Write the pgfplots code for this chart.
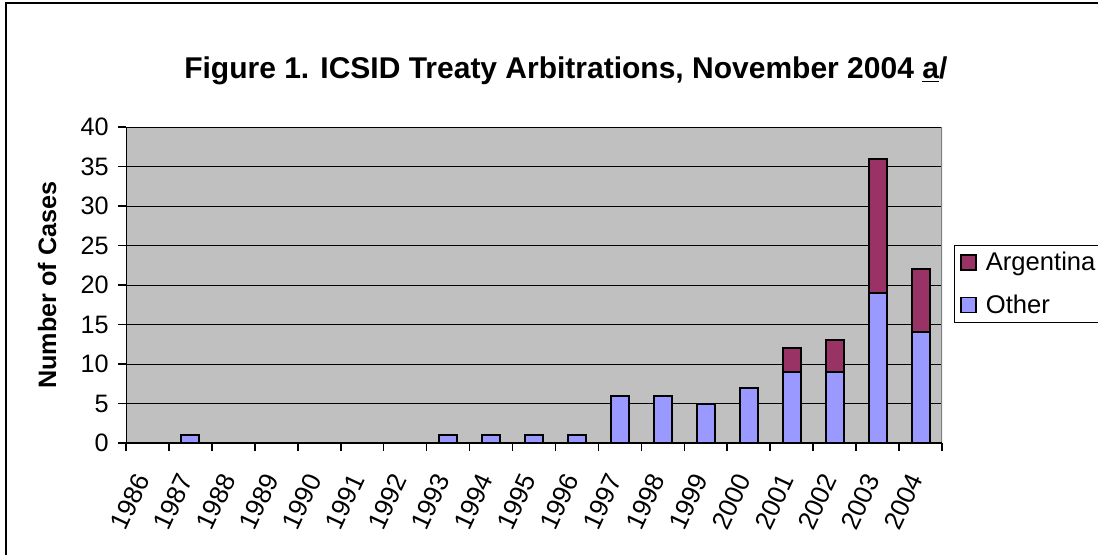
\documentclass[border=0pt]{standalone}
\usepackage{pgfplots}
\pgfplotsset{compat=1.18}
\usepackage{fontspec}
\setmainfont{Liberation Sans}
\definecolor{plotbg}{HTML}{C0C0C0}
\definecolor{other}{HTML}{9999FF}
\definecolor{argentina}{HTML}{993366}
\definecolor{rborder}{HTML}{808080}
\pgfplotstableread{
x other argentina
0 0 0
1 1 0
2 0 0
3 0 0
4 0 0
5 0 0
6 0 0
7 1 0
8 1 0
9 1 0
10 1 0
11 6 0
12 6 0
13 5 0
14 7 0
15 9 3
16 9 4
17 19 17
18 14 8
}\datatable
\begin{document}
\begin{tikzpicture}
\useasboundingbox (0,0) rectangle (549pt,277pt);
\draw[black, line width=1pt] (2.75pt,-10pt) rectangle (600pt,275.5pt);
\begin{axis}[
  at={(63pt,55.5pt)}, anchor=south west,
  scale only axis, width=408pt, height=158pt,
  xmin=-0.5, xmax=18.5, ymin=0, ymax=40,
  ybar stacked, bar width=0.42,
  axis background/.style={fill=plotbg},
  axis line style={draw=none},
  xtick={0,...,18},
  xticklabels={1986,1987,1988,1989,1990,1991,1992,1993,1994,1995,1996,1997,1998,1999,2000,2001,2002,2003,2004},
  minor xtick={-0.5,0.5,...,18.5},
  xtick pos=bottom, ytick pos=left,
  tick align=outside,
  major tick length=4pt, minor tick length=4pt,
  major x tick style={draw=none},
  minor x tick style={black, line width=0.8pt},
  y tick style={black, line width=0.8pt},
  ytick={0,5,...,40},
  ymajorgrids, major grid style={black, line width=0.5pt},
  tick label style={font=\fontsize{12.6}{14}\selectfont},
  /pgf/number format/assume math mode=true,
  xticklabel style={xshift=-2.5pt, yshift=-12pt, rotate=65, anchor=east, inner sep=0pt, font=\fontsize{13}{15}\selectfont},
  yticklabel style={inner sep=0pt, xshift=-4.5pt},
  ylabel={Number of Cases},
  ylabel style={at={(axis description cs:-0.0968,0.5)}, anchor=center, font=\bfseries\fontsize{12.6}{14}\selectfont},
  title={Figure 1. ICSID Treaty Arbitrations, November 2004 \underline{a}/},
  title style={at={(axis description cs:0.539,1.14)}, anchor=center, font=\bfseries\fontsize{15}{18}\selectfont},
  legend style={at={(1.0147,0.6266)}, anchor=north west, draw=black, line width=0.5pt,
    font=\fontsize{12.8}{14}\selectfont, fill=white, inner xsep=3pt, inner ysep=1.2pt,
    row sep=6.5pt, cells={anchor=west},
    /tikz/every odd column/.append style={column sep=2.5pt}},
  legend image code/.code={\draw[#1, draw=black, line width=0.7pt] (0pt,-3.75pt) rectangle (7.5pt,3.75pt);},
  reverse legend,
]
\addplot[fill=other, draw=black, line width=1pt] table[x=x, y=other] {\datatable};
\addlegendentry{Other}
\addplot[fill=argentina, draw=black, line width=1pt] table[x=x, y=argentina] {\datatable};
\addlegendentry{Argentina}
\draw[black, line width=1pt] (rel axis cs:0,1) -- (rel axis cs:0,0) -- (rel axis cs:1,0);
\draw[rborder, line width=1pt] (rel axis cs:1,0) -- (rel axis cs:1,1);
\end{axis}
\end{tikzpicture}
\end{document}
